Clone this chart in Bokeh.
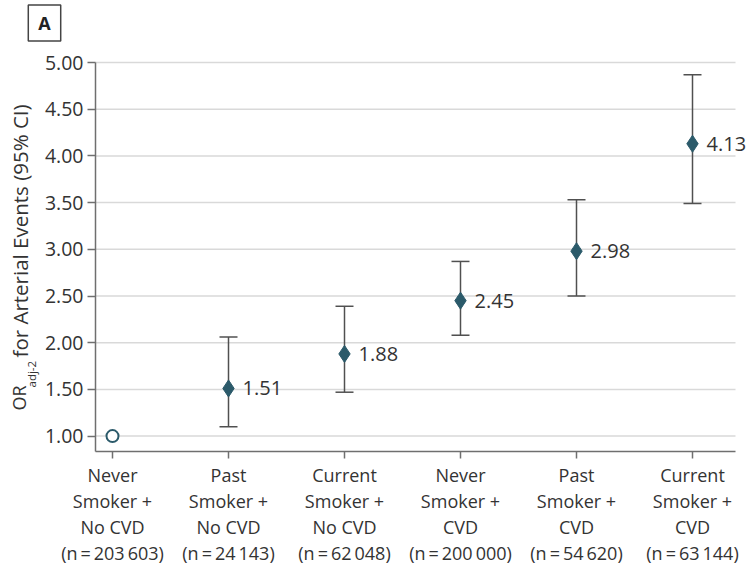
import math
from bokeh.plotting import figure
from bokeh.models import FixedTicker, Label, Range1d, PrintfTickFormatter, ColumnDataSource
from bokeh.core.properties import value
from bokeh.embed import file_html
from bokeh.resources import INLINE

# ---------------- data ----------------
categories = [
    "Never\nSmoker +\nNo CVD\n(n\u2009=\u2009203\u2009603)",
    "Past\nSmoker +\nNo CVD\n(n\u2009=\u200924\u2009143)",
    "Current\nSmoker +\nNo CVD\n(n\u2009=\u200962\u2009048)",
    "Never\nSmoker +\nCVD\n(n\u2009=\u2009200\u2009000)",
    "Past\nSmoker +\nCVD\n(n\u2009=\u200954\u2009620)",
    "Current\nSmoker +\nCVD\n(n\u2009=\u200963\u2009144)",
]
odds_ratio = [1.00, 1.51, 1.88, 2.45, 2.98, 4.13]
ci_lower = [1.00, 1.10, 1.47, 2.08, 2.50, 3.49]
ci_upper = [1.00, 2.06, 2.39, 2.87, 3.53, 4.87]
value_labels = ["", "1.51", "1.88", "2.45", "2.98", "4.13"]
y_tick_values = [1.00, 1.50, 2.00, 2.50, 3.00, 3.50, 4.00, 4.50, 5.00]

# ---------------- style / layout ----------------
FONT = "Open Sans"
TEXT = "#333333"
MARK = "#2b5a6a"
AXIS = "#6f6f6f"
GRID = "#d9d9d9"
WHISK = "#505050"

W, H = 749, 566
PX_PER_CAT = 116.0          # horizontal pixels per category step
PX_PER_UNIT = 93.4          # vertical pixels per OR unit
FIRST_CAT_PX = 112.0        # canvas x of first category
TOP_TICK_PX = 62.0          # canvas y of the 5.00 tick

X_MIN = -FIRST_CAT_PX / PX_PER_CAT
X_MAX = X_MIN + W / PX_PER_CAT
Y_MAX = y_tick_values[-1] + TOP_TICK_PX / PX_PER_UNIT
Y_MIN = Y_MAX - H / PX_PER_UNIT


def px_to_x(cx):
    return X_MIN + cx / PX_PER_CAT


def px_to_y(cy):
    return Y_MAX - cy / PX_PER_UNIT


AXIS_X = px_to_x(95)     # location of the y axis
AXIS_Y = px_to_y(451)    # location of the x axis
PLOT_RIGHT = px_to_x(735)

idx = list(range(len(categories)))

p = figure(width=W, height=H, output_backend="svg", toolbar_location=None, title=None,
           x_range=Range1d(X_MIN, X_MAX), y_range=Range1d(Y_MIN, Y_MAX),
           min_border=0, min_border_left=0, min_border_right=0,
           min_border_top=0, min_border_bottom=0,
           outline_line_color=None, background_fill_color="white",
           border_fill_color="white")
p.xgrid.visible = False
p.ygrid.visible = False

# y axis
yax = p.yaxis[0]
yax.fixed_location = AXIS_X
yax.bounds = (AXIS_Y, y_tick_values[-1])
yax.ticker = FixedTicker(ticks=y_tick_values)
yax.formatter = PrintfTickFormatter(format="%.2f")
yax.axis_line_color = AXIS
yax.axis_line_width = 1.5
yax.major_tick_line_color = AXIS
yax.major_tick_line_width = 1.5
yax.major_tick_out = 8
yax.major_tick_in = 0
yax.minor_tick_line_color = None
yax.major_label_text_font = FONT
yax.major_label_text_font_size = "19.5px"
yax.major_label_text_color = TEXT
yax.major_label_standoff = 4

# x axis
xax = p.xaxis[0]
xax.fixed_location = AXIS_Y
xax.bounds = (AXIS_X, PLOT_RIGHT)
xax.ticker = FixedTicker(ticks=idx)
xax.major_label_overrides = {i: c for i, c in zip(idx, categories)}
xax.axis_line_color = AXIS
xax.axis_line_width = 1.5
xax.major_tick_line_color = AXIS
xax.major_tick_line_width = 1.5
xax.major_tick_out = 7
xax.major_tick_in = 0
xax.minor_tick_line_color = None
xax.major_label_text_font = FONT
xax.major_label_text_font_size = "18px"
xax.major_label_text_color = TEXT
xax.major_label_text_line_height = 1.09
xax.major_label_standoff = 4

# horizontal grid lines at the y ticks, from the y axis to the plot's right edge
n_ticks = len(y_tick_values)
p.segment(x0=[AXIS_X] * n_ticks, x1=[PLOT_RIGHT] * n_ticks,
          y0=y_tick_values, y1=y_tick_values, line_color=GRID, line_width=1.5)

# confidence intervals
src = ColumnDataSource(dict(
    x=idx[1:], y=odds_ratio[1:], lower=ci_lower[1:], upper=ci_upper[1:],
    lab=value_labels[1:],
))
p.segment(x0="x", x1="x", y0="lower", y1="upper", source=src,
          line_color=WHISK, line_width=1.5)
p.scatter("x", "lower", source=src, marker="dash", size=18,
          line_color=WHISK, line_width=1.5)
p.scatter("x", "upper", source=src, marker="dash", size=18,
          line_color=WHISK, line_width=1.5)

# markers
p.scatter("x", "y", source=src, marker="diamond", size=17,
          fill_color=MARK, line_color=MARK, line_width=1)
p.scatter(x=idx[:1], y=odds_ratio[:1], marker="circle", size=12,
          fill_color="white", line_color=MARK, line_width=2)

# value labels
p.text("x", "y", text="lab", source=src, x_offset=14, text_align="left",
       text_baseline="middle", text_font=value(FONT), text_font_size="20px",
       text_color=TEXT)

# y axis title: OR_adj-2 for Arterial Events (95% CI)
common = dict(angle=math.pi / 2, text_align="left", text_baseline="alphabetic",
              text_font=FONT, text_color=TEXT)
p.add_layout(Label(x=px_to_x(18), y=px_to_y(410), text="OR",
                   text_font_size="18px", **common))
p.add_layout(Label(x=px_to_x(31), y=px_to_y(387), text="adj-2",
                   text_font_size="11.5px", **common))
p.add_layout(Label(x=px_to_x(19), y=px_to_y(357), text="for Arterial Events (95% CI)",
                   text_font_size="20.5px", **common))

# panel tag "A"
p.add_layout(Label(x=px_to_x(44), y=px_to_y(22.5), text="A", text_align="center",
                   text_baseline="middle", text_font=FONT, text_font_size="18px",
                   text_font_style="bold", text_color="#222222",
                   border_line_color="#444444", border_line_width=1.5,
                   background_fill_color="white", padding=(10, 10, 6, 6),
                   text_line_height=1.0))

open("out.html", "w").write(file_html(p, INLINE))
